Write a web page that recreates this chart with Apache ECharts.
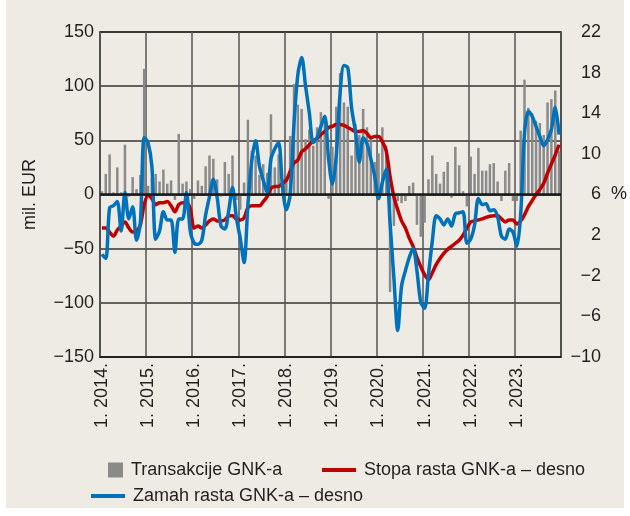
<!DOCTYPE html>
<html>
<head>
<meta charset="utf-8">
<script src="https://cdn.jsdelivr.net/npm/echarts@6/dist/echarts.min.js"></script>
<style>
  html, body { margin: 0; padding: 0; background: #fff; }
  #panel { position: absolute; left: 6px; top: 0; width: 618px; height: 508px; background: #eeebe4; }
  #chart { position: absolute; left: 0; top: 0; width: 630px; height: 516px; }
</style>
</head>
<body>
<div id="panel"></div>
<div id="chart"></div>
<script>
// years on the x axis, one category per month
const years = [2014, 2015, 2016, 2017, 2018, 2019, 2020, 2021, 2022, 2023]
const months = []
years.forEach((y) => {
  for (let m = 1; m <= 12; m++) months.push(m + '. ' + y + '.')
})

// Transakcije GNK-a, mil. EUR (left axis)
const transakcije = [
  3, 19, 37, 2, 25, 2, 46, -2, 16, 5, 18, 116,
  8, 15, 19, 12, 23, 10, 13, -5, 56, 10, 12, 5,
  -4, 13, 8, 26, 36, 33, 14, -2, 30, 19, 36, -5,
  -14, 11, 69, 40, 36, 18, 28, 20, 74, 25, 37, 14,
  15, 54, 102, 83, 79, 51, 60, 45, 62, 76, 73, -4,
  44, 81, 112, 85, 81, 36, 65, 55, 79, 62, 52, 30,
  38, 62, 45, -90, -29, -6, -8, -6, 8, 11, -28, -39,
  -26, 14, 36, 19, 10, 21, 30, -3, 44, 27, 3, -11,
  35, 19, 43, 22, 22, 28, 29, 12, -6, 22, 29, -6,
  -6, 59, 106, 80, 75, 68, 66, 55, 85, 88, 96, 40,
]

// Stopa rasta GNK-a, % (right axis)
const stopa = [
  2.7, 2.7, 2.3, 1.9, 2.5, 2.9, 3.3, 2.7, 2.3, 2.4, 3.0, 5.0,
  5.9, 5.6, 5.0, 5.2, 5.2, 5.3, 4.9, 4.3, 5.0, 5.2, 5.2, 4.6,
  2.7, 2.9, 2.7, 3.0, 3.4, 3.6, 3.4, 3.4, 3.5, 3.9, 3.9, 3.6,
  3.5, 3.7, 4.7, 4.9, 4.9, 4.9, 5.3, 5.8, 6.6, 6.8, 6.8, 7.1,
  7.4, 8.3, 9.1, 9.4, 10.2, 10.5, 10.9, 11.3, 11.5, 11.9, 12.2, 12.6,
  12.7, 12.9, 12.9, 12.8, 12.6, 12.4, 12.2, 12.2, 12.3, 12.0, 11.6, 11.7,
  11.7, 11.2, 10.3, 7.8, 5.8, 4.5, 3.4, 2.7, 1.7, 0.9, -0.2, -1.1,
  -1.9, -2.4, -1.7, -0.9, -0.3, 0.2, 0.6, 0.9, 1.2, 1.5, 2.0, 2.7,
  3.3, 3.4, 3.5, 3.6, 3.75, 3.85, 3.9, 3.9, 3.6, 3.3, 3.5, 3.5,
  3.1, 3.4, 4.0, 4.8, 5.4, 6.0, 6.5, 7.1, 8.1, 9.0, 9.9, 10.9,
]

// Zamah rasta GNK-a, % (right axis)
const zamah = [
  0.1, -0.3, 4.7, 4.9, 5.3, 2.4, 6.2, 3.6, 4.8, 1.5, 3.2, 11.6,
  11.1, 8.8, 1.6, 2.4, 4.3, 3.5, 3.5, 0.3, 3.6, 3.6, 6.2, 2.4,
  1.2, 1.1, 1.5, 4.0, 5.8, 7.5, 5.7, 2.9, 2.6, 4.4, 6.7, 3.7,
  1.7, -0.7, 5.0, 9.3, 11.3, 8.8, 7.4, 6.2, 9.5, 10.5, 11.1, 6.8,
  4.5, 6.0, 13.0, 17.8, 19.5, 16.7, 14.0, 11.1, 11.6, 12.7, 13.7, 9.5,
  7.0, 9.8, 16.0, 18.7, 18.5, 14.5, 12.2, 9.2, 11.6, 11.0, 9.5, 7.8,
  5.6, 7.2, 8.5, 3.2, -2.2, -7.4, -3.0, -1.5, -0.2, 0.7, -1.5, -4.6,
  -5.2, -1.9, 1.4, 3.9, 3.6, 3.0, 3.6, 2.9, 4.1, 4.2, 4.3, 1.2,
  1.6, 3.0, 5.6, 5.0, 5.1, 4.4, 4.5, 3.8, 1.9, 1.6, 2.6, 2.3,
  0.9, 4.0, 12.0, 14.2, 13.7, 12.7, 11.7, 10.8, 11.4, 12.4, 14.6, 11.9,
]

const FONT = '"Liberation Sans", Arial, sans-serif'
const TXT = '#231f20'
const minus = (v) => String(v).replace('-', '\u2212')

const legendText = { fontFamily: FONT, fontSize: 18, color: TXT, padding: [0, 0, 0, 3] }

const option = {
  animation: false,
  textStyle: { fontFamily: FONT },
  grid: {
    left: 100,
    right: 68,
    top: 32,
    bottom: 159,
    show: true,
    borderColor: '#1a1a1a',
    borderWidth: 1.5,
    backgroundColor: 'transparent',
  },
  legend: [
    {
      data: ['Transakcije GNK-a'],
      left: 103,
      top: 456,
      itemWidth: 15,
      itemHeight: 15,
      icon: 'rect',
      textStyle: legendText,
    },
    {
      data: ['Stopa rasta GNK-a \u2013 desno'],
      left: 317,
      top: 456,
      itemWidth: 34,
      itemHeight: 4,
      icon: 'rect',
      textStyle: legendText,
    },
    {
      data: ['Zamah rasta GNK-a \u2013 desno'],
      left: 86,
      top: 482,
      itemWidth: 34,
      itemHeight: 4,
      icon: 'rect',
      textStyle: legendText,
    },
  ],
  xAxis: {
    type: 'category',
    data: months,
    boundaryGap: true,
    axisLine: { onZero: false, lineStyle: { color: '#1a1a1a', width: 1.5 } },
    axisTick: { show: false },
    axisLabel: {
      interval: (i) => i % 12 === 0,
      rotate: 90,
      margin: 6,
      fontFamily: FONT,
      fontSize: 18,
      color: TXT,
    },
    splitLine: {
      show: true,
      interval: (i) => i % 12 === 0,
      lineStyle: { color: '#555', width: 1.5 },
    },
  },
  yAxis: [
    {
      type: 'value',
      min: -150,
      max: 150,
      interval: 50,
      name: 'mil. EUR',
      nameLocation: 'middle',
      nameGap: 61,
      nameRotate: 90,
      nameTextStyle: { fontFamily: FONT, fontSize: 18, color: TXT },
      axisLine: { show: false },
      axisTick: { show: false },
      axisLabel: { margin: 6, fontFamily: FONT, fontSize: 18, color: TXT, formatter: minus },
      splitLine: { lineStyle: { color: '#333', width: 1.5 } },
    },
    {
      type: 'value',
      min: -10,
      max: 22,
      interval: 4,
      position: 'right',
      name: '%',
      nameLocation: 'middle',
      nameGap: 50,
      nameRotate: 0,
      nameTextStyle: { fontFamily: FONT, fontSize: 18, color: TXT },
      axisLine: { show: false },
      axisTick: { show: false },
      axisLabel: { margin: 40, align: 'right', fontFamily: FONT, fontSize: 18, color: TXT, formatter: minus },
      splitLine: { show: false },
    },
  ],
  series: [
    {
      name: 'Transakcije GNK-a',
      type: 'bar',
      barWidth: 2.5,
      itemStyle: { color: '#8a8a8a' },
      data: transakcije,
      markLine: {
        silent: true,
        symbol: ['none', 'none'],
        label: { show: false },
        lineStyle: { color: '#1a1a1a', width: 2.5, type: 'solid' },
        data: [{ yAxis: 0 }],
      },
    },
    {
      name: 'Stopa rasta GNK-a \u2013 desno',
      type: 'line',
      yAxisIndex: 1,
      showSymbol: false,
      smooth: 0.3,
      itemStyle: { color: '#c00000' },
      lineStyle: { color: '#c00000', width: 3.5 },
      data: stopa,
    },
    {
      name: 'Zamah rasta GNK-a \u2013 desno',
      type: 'line',
      yAxisIndex: 1,
      showSymbol: false,
      smooth: 0.3,
      itemStyle: { color: '#0072bc' },
      lineStyle: { color: '#0072bc', width: 3.5 },
      data: zamah,
    },
  ],
}

const chart = echarts.init(document.getElementById('chart'))
chart.setOption(option)
</script>
</body>
</html>
